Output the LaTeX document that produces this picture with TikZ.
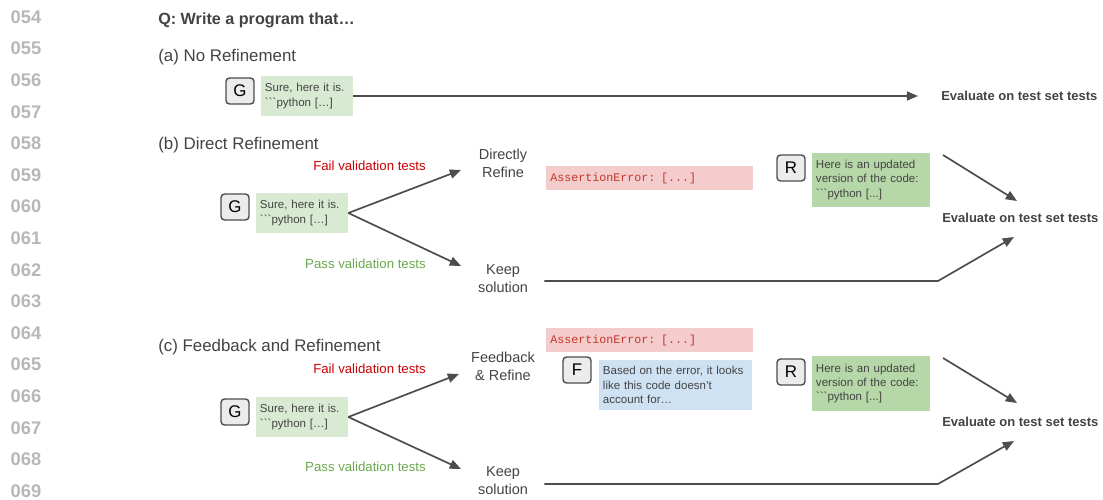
\documentclass[tikz,border=0pt]{standalone}
\usepackage{fontspec}
\setmainfont{Liberation Sans}
\newfontfamily\codefont{Liberation Mono}
\usetikzlibrary{arrows.meta,calc}

\definecolor{ink}{HTML}{434343}
\definecolor{linegray}{HTML}{4D4D4D}
\definecolor{numgray}{HTML}{B7B7B7}
\definecolor{genfill}{HTML}{D9EAD3}
\definecolor{reffill}{HTML}{B6D7A8}
\definecolor{errfill}{HTML}{F4CCCC}
\definecolor{errtext}{HTML}{C0392B}
\definecolor{fbfill}{HTML}{CFE2F3}
\definecolor{failred}{HTML}{CC0000}
\definecolor{passgreen}{HTML}{6AA84F}

\newcommand{\ticks}{\textasciigrave\textasciigrave\textasciigrave}

\begin{document}
\begin{tikzpicture}[x=0.025cm, y=-0.025cm,
  lineno/.style={font=\fontsize{13}{15}\selectfont\bfseries, text=numgray},
  title/.style={anchor=west, inner sep=0pt, font=\fontsize{11.5}{14}\selectfont\bfseries, text=ink},
  section/.style={anchor=west, inner sep=0pt, font=\fontsize{12}{14}\selectfont, text=ink},
  agent/.style={rectangle, draw=linegray, line width=1pt, rounded corners=2.5pt, fill=gray!15,
    minimum width=0.7cm, minimum height=0.65cm, inner sep=0pt, font=\fontsize{12}{14}\selectfont},
  msg/.style={rectangle, inner xsep=0.1cm, inner ysep=0pt, align=left, text=ink,
    font=\fontsize{8.2}{10.3}\selectfont},
  gen/.style={msg, fill=genfill, text width=2.1cm, minimum height=1.0cm},
  refined/.style={msg, fill=reffill, text width=2.75cm, minimum height=1.35cm},
  feedback/.style={msg, fill=fbfill, text width=3.625cm, minimum height=1.25cm},
  err/.style={msg, fill=errfill, text=errtext, text width=4.975cm, minimum height=0.6cm,
    font=\fontsize{8.3}{10}\selectfont\codefont},
  cond/.style={anchor=east, inner sep=0pt, font=\fontsize{9.4}{11}\selectfont},
  action/.style={align=center, inner sep=2pt, text=ink, font=\fontsize{10.3}{12.8}\selectfont},
  eval/.style={anchor=west, inner sep=0pt, text=ink, font=\fontsize{9.25}{11}\selectfont\bfseries},
  arrow/.style={-{Triangle[length=8pt, width=6.5pt]}, line width=1.2pt, draw=linegray},
]
\useasboundingbox (0,0) rectangle (1103,499);

% === LINE NUMBERS ===
\foreach \i in {0,...,15} {
  \pgfmathtruncatemacro{\n}{54+\i}
  \node[lineno] (ln\i) at (26, {17+31.6*\i}) {0\n};
}

\node[title] (question) at (158,20) {Q: Write a program that…};

% === (a) NO REFINEMENT ===
\node[section] (lab-a) at (158,57) {(a) No Refinement};
\node[agent] (g-a) at (240,91) {G};
\node[gen] (gen-a) at (307,96) {Sure, here it is.\\\ticks python […]};
\node[eval] (ev-a) at (941,96) {Evaluate on test set tests};
\draw[arrow, shorten >=0.575cm] (gen-a) -- (ev-a);

% === (b) DIRECT REFINEMENT ===
\node[section] (lab-b) at (158,145) {(b) Direct Refinement};
\node[agent] (g-b) at (235,207) {G};
\node[gen] (gen-b) at (302,213) {Sure, here it is.\\\ticks python […]};
\node[cond, text=failred] (fail-b) at (426,166) {Fail validation tests};
\node[cond, text=passgreen] (pass-b) at (426,264) {Pass validation tests};
\node[action] (dr-b) at (503,163) {Directly\\Refine};
\node[action] (ks-b) at (503,279) {Keep\\solution};
\node[err, anchor=west] (err-b) at (546,178) {AssertionError: [...]};
\node[agent] (r-b) at (791,168) {R};
\node[refined] (ref-b) at (871,180) {Here is an updated\\version of the code:\\\ticks python [...]};
\node[eval] (ev-b) at (942,218) {Evaluate on test set tests};

\coordinate (b-fail) at (461,170);
\coordinate (b-pass) at (461,266);
\coordinate (b-out) at (943,155);
\coordinate (b-in) at (1017,201);
\coordinate (b-bend) at (938,281);
\coordinate (b-up) at (1014,237);

\draw[arrow] (gen-b.east) -- (b-fail);
\draw[arrow] (gen-b.east) -- (b-pass);
\draw[arrow] (b-out) -- (b-in);
\draw[arrow] (ks-b.east |- b-bend) ++(0.33cm,0) -- (b-bend) -- (b-up);

% === (c) FEEDBACK AND REFINEMENT ===
\node[section] (lab-c) at (158,347) {(c) Feedback and Refinement};
\node[agent] (g-c) at (235,412) {G};
\node[gen] (gen-c) at (302,417) {Sure, here it is.\\\ticks python […]};
\node[cond, text=failred] (fail-c) at (426,369) {Fail validation tests};
\node[cond, text=passgreen] (pass-c) at (426,467) {Pass validation tests};
\node[action] (fr-c) at (503,366) {Feedback\\\& Refine};
\node[action] (ks-c) at (503,481) {Keep\\solution};
\node[err, anchor=west] (err-c) at (546,340) {AssertionError: [...]};
\node[agent] (f-c) at (577,370) {F};
\node[feedback] (fb-c) at (675.5,385) {Based on the error, it looks\\like this code doesn't\\account for…};
\node[agent] (r-c) at (791,372) {R};
\node[refined] (ref-c) at (871,383.5) {Here is an updated\\version of the code:\\\ticks python [...]};
\node[eval] (ev-c) at (942,422) {Evaluate on test set tests};

\coordinate (c-fail) at (459,374);
\coordinate (c-pass) at (461,469);
\coordinate (c-out) at (943,358);
\coordinate (c-in) at (1017,403);
\coordinate (c-bend) at (938,484);
\coordinate (c-up) at (1014,441);

\draw[arrow] (gen-c.east) -- (c-fail);
\draw[arrow] (gen-c.east) -- (c-pass);
\draw[arrow] (c-out) -- (c-in);
\draw[arrow] (ks-c.east |- c-bend) ++(0.33cm,0) -- (c-bend) -- (c-up);
\end{tikzpicture}
\end{document}
